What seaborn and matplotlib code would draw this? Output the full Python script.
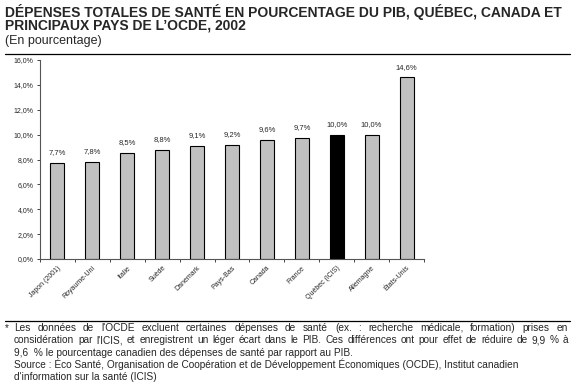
import numpy as np
import matplotlib
matplotlib.use("Agg")
import matplotlib.pyplot as plt
import seaborn as sns

pays = ["Japon (2001)", "Royaume-Uni", "Italie", "Suède", "Danemark", "Pays-Bas",
        "Canada", "France", "Québec (ICIS)", "Allemagne", "États-Unis"]
valeurs = [7.7, 7.8, 8.5, 8.8, 9.1, 9.2, 9.6, 9.7, 10.0, 10.0, 14.6]
couleurs = ["#c0c0c0"] * 8 + ["#000000"] + ["#c0c0c0"] * 2
yticks = [0, 2, 4, 6, 8, 10, 12, 14, 16]

sns.set_style("white")
plt.rcParams['font.family'] = ['Liberation Sans', 'DejaVu Sans']

fig = plt.figure(figsize=(5.76, 3.92), dpi=100)
ax = fig.add_axes([40/576, 1-259/392, 384/576, 199/392])

sns.barplot(x=pays, y=valeurs, hue=pays, palette=couleurs, legend=False,
            width=0.4, edgecolor="black", linewidth=0.8, ax=ax, saturation=1)

for i, v in enumerate(valeurs):
    ax.text(i, v + 0.55, f"{v:.1f}%".replace(".", ","), ha="center", va="bottom", fontsize=5.5)

ax.set_ylim(0, 16)
ax.set_xlim(-0.5, len(pays) - 0.5)
ax.set_yticks(yticks)
ax.set_yticklabels([f"{t:.1f}%".replace(".", ",") for t in yticks], fontsize=5)
ax.set_xticks(range(len(pays)))
ax.set_xticklabels(pays, rotation=45, ha="right", rotation_mode="anchor", fontsize=5)
ax.set_xticks(np.arange(-0.5, len(pays)), minor=True)
ax.tick_params(axis="x", which="major", length=0, pad=4)
ax.tick_params(axis="x", which="minor", length=2.5, width=0.6, direction="out")
ax.tick_params(axis="y", length=2.5, width=0.6, direction="out", pad=2)
ax.xaxis.set_ticks_position("bottom")
ax.yaxis.set_ticks_position("left")
for loc in ["top", "right"]:
    ax.spines[loc].set_visible(False)
for loc in ["left", "bottom"]:
    ax.spines[loc].set_color("#555555")
    ax.spines[loc].set_linewidth(0.8)
ax.set_xlabel("")
ax.set_ylabel("")

fig.text(5/576, 1-4/392, "DÉPENSES TOTALES DE SANTÉ EN POURCENTAGE DU PIB, QUÉBEC, CANADA ET",
         fontsize=10, fontweight="bold", va="top", ha="left")
fig.text(5/576, 1-19/392, "PRINCIPAUX PAYS DE L’OCDE, 2002",
         fontsize=10, fontweight="bold", va="top", ha="left")
fig.text(5/576, 1-35/392, "(En pourcentage)", fontsize=9, va="top", ha="left")

fig.add_artist(plt.Line2D([5/576, 570/576], [1-53.5/392, 1-53.5/392], color="black", lw=0.9))
fig.add_artist(plt.Line2D([5/576, 570/576], [1-320.5/392, 1-320.5/392], color="black", lw=0.9))

notes = [
    ("Les données de l'OCDE excluent certaines dépenses de santé (ex. : recherche médicale, formation) prises en", True),
    ("considération par l'ICIS, et enregistrent un léger écart dans le PIB. Ces différences ont pour effet de réduire de 9,9  % à", True),
    ("9,6  % le pourcentage canadien des dépenses de santé par rapport au PIB.", False),
    ("Source : Éco Santé, Organisation de Coopération et de Développement Économiques (OCDE), Institut canadien", False),
    ("d'information sur la santé (ICIS)", False),
]
fs = 7.3
fig.text(5/576, 1-331/392, "*", fontsize=fs, va="baseline", ha="left")
renderer = fig.canvas.get_renderer()
x0, x1 = 14, 568
for k, (line, justify) in enumerate(notes):
    y = 1 - (331 + k * 12.3) / 392
    if not justify:
        fig.text(x0/576, y, line, fontsize=fs, va="baseline", ha="left")
        continue
    words = line.split()
    arts = [fig.text(0, y, w, fontsize=fs, va="baseline", ha="left") for w in words]
    widths = [a.get_window_extent(renderer).width for a in arts]
    gap = (x1 - x0 - sum(widths)) / (len(words) - 1)
    x = x0
    for a, w in zip(arts, widths):
        a.set_x(x / 576)
        x += w + gap

fig.savefig("out.png", dpi=100)
